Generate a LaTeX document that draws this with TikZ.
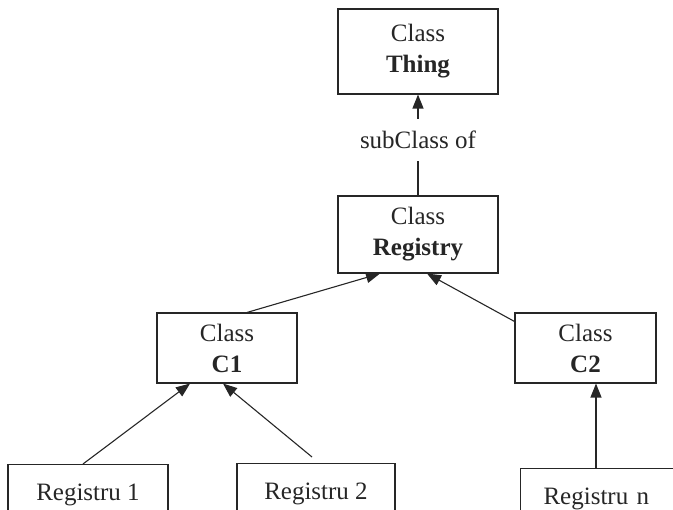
\documentclass[tikz,border=0pt]{standalone}
\usepackage{fontspec}
\setmainfont{Liberation Serif}
\usetikzlibrary{arrows.meta}

\begin{document}
\begin{tikzpicture}[x=1pt,y=-1pt,font=\fontsize{25}{31}\selectfont]
	\useasboundingbox (0,0) rectangle (673,510);
	\clip (0,0) rectangle (673,510);

	\begin{scope}[every node/.style={rectangle,draw=black!85,line width=1.1pt,text=black!85,align=center}]
		\node[minimum width=160pt,minimum height=85pt] (thing) at (418,51.5) {Class\\\textbf{Thing}};
		\node[minimum width=160pt,minimum height=77pt] (registry) at (418,234.5) {Class\\\textbf{Registry}};
		\node[minimum width=140pt,minimum height=70pt] (c1) at (227,348) {Class\\\textbf{C1}};
		\node[minimum width=141pt,minimum height=70pt] (c2) at (585.5,348) {Class\\\textbf{C2}};
		\node[anchor=north,minimum width=160pt,minimum height=60pt] (reg1) at (88,464) {Registru 1};
		\node[anchor=north,minimum width=158pt,minimum height=60pt] (reg2) at (316,463) {Registru 2};
		\node[anchor=north west,text width=150pt,align=left,inner xsep=23pt,minimum height=60pt] (regn) at (520,468) {Registru n};
	\end{scope}

	\coordinate (c2in) at ([xshift=10.5pt]c2.south);

	\begin{scope}[>={Triangle[length=14pt,width=11pt]},
	              every node/.style={fill=white,text=black!85,inner xsep=4pt,inner ysep=12pt},
	              every edge/.style={draw=black!85,line width=1.1pt}]
		\path (registry) edge[->] node[pos=0.55]{subClass of} (thing);
		\path ([xshift=20pt]c1.north) edge[->] ([xshift=-38pt]registry.south);
		\path ([yshift=-9pt]c2.north west) edge[->] ([xshift=9pt]registry.south);
		\path ([xshift=-5pt]reg1.north) edge[->] ([xshift=-37pt]c1.south);
		\path ([xshift=-4pt,yshift=6pt]reg2.north) edge[->] ([xshift=-4pt]c1.south);
		\path (regn.north -| c2in) edge[->] (c2in);
	\end{scope}
\end{tikzpicture}
\end{document}
